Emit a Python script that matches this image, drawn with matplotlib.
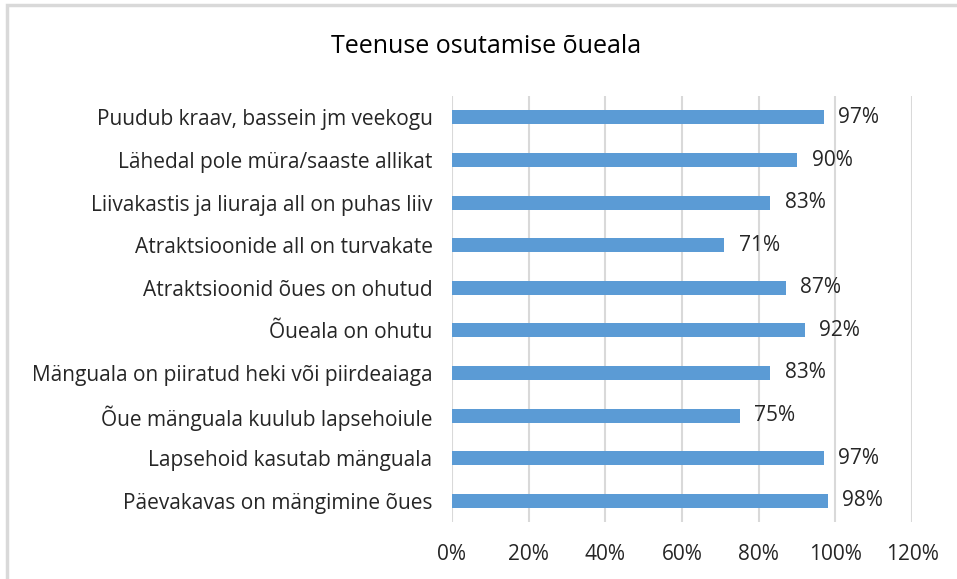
import matplotlib
matplotlib.use("Agg")
import matplotlib.pyplot as plt
from matplotlib.patches import Rectangle
from matplotlib.ticker import FuncFormatter

# Data (top to bottom as shown)
categories = [
    "Puudub kraav, bassein jm veekogu",
    "Lähedal pole müra/saaste allikat",
    "Liivakastis ja liuraja all on puhas liiv",
    "Atraktsioonide all on turvakate",
    "Atraktsioonid õues on ohutud",
    "Õueala on ohutu",
    "Mänguala on piiratud heki või piirdeaiaga",
    "Õue mänguala kuulub lapsehoiule",
    "Lapsehoid kasutab mänguala",
    "Päevakavas on mängimine õues",
]
values = [0.97, 0.90, 0.83, 0.71, 0.87, 0.92, 0.83, 0.75, 0.97, 0.98]
xticks = [0, 0.2, 0.4, 0.6, 0.8, 1.0, 1.2]

plt.rcParams['font.family'] = ['Open Sans', 'DejaVu Sans']
txtcol = "#262626"

fig = plt.figure(figsize=(9.57, 5.79), dpi=100)
ax = fig.add_axes([0.4723, 0.0984, 0.4807, 0.7356])

# chart border (left and top edges visible)
fig.patches.append(Rectangle((6.5 / 957, -0.1), 1.2, 1.1 - 5.0 / 579,
                             transform=fig.transFigure, fill=False,
                             edgecolor="#d9d9d9", linewidth=2.5))

ypos = list(range(len(categories)))[::-1]
ax.barh(ypos, values, height=0.33, color="#5b9bd5", zorder=3)
for y, v in zip(ypos, values):
    ax.text(v + 0.038, y, "%d%%" % round(v * 100), va="center", ha="left",
            fontsize=15, color=txtcol)

ax.set_xlim(0, 1.2)
ax.set_ylim(-0.5, len(categories) - 0.5)
ax.set_xticks(xticks)
ax.xaxis.set_major_formatter(FuncFormatter(lambda x, p: "%d%%" % round(x * 100)))
ax.set_yticks(ypos)
ax.set_yticklabels(categories)
ax.tick_params(axis="both", length=0, labelsize=15, labelcolor=txtcol)
ax.tick_params(axis="x", pad=16)
ax.tick_params(axis="y", pad=14)
ax.grid(axis="x", color="#d9d9d9", linewidth=1.5, zorder=0)
for s in ax.spines.values():
    s.set_visible(False)

fig.text(0.508, 0.919, "Teenuse osutamise õueala", ha="center", va="center",
         fontsize=18, color="#000000")

fig.savefig("out.png", dpi=100)
